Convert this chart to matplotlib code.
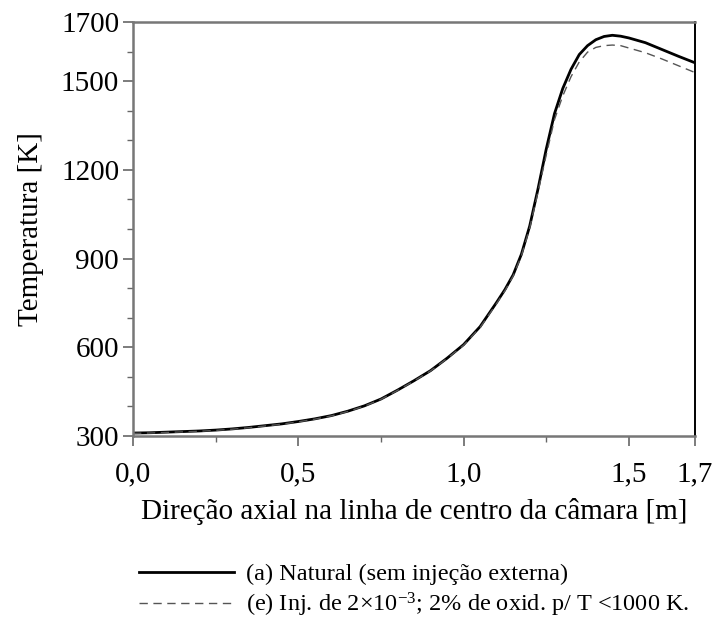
import matplotlib
matplotlib.use("Agg")
import matplotlib.pyplot as plt
from matplotlib.ticker import FixedLocator

plt.rcParams['font.family'] = ['Liberation Serif', 'DejaVu Serif']
plt.rcParams['mathtext.fontset'] = 'custom'
plt.rcParams['mathtext.rm'] = 'Liberation Serif'
plt.rcParams['mathtext.it'] = 'Liberation Serif:italic'

# Data
x_natural = [0.0, 0.05, 0.1, 0.15, 0.2, 0.25, 0.3, 0.35, 0.4, 0.45, 0.5, 0.55,
             0.6, 0.65, 0.7, 0.75, 0.8, 0.85, 0.9, 0.95, 1.0, 1.05, 1.1, 1.125,
             1.15, 1.175, 1.2, 1.225, 1.25, 1.275, 1.3, 1.325, 1.35, 1.375, 1.4,
             1.425, 1.45, 1.475, 1.5, 1.55, 1.6, 1.65, 1.7]
t_natural = [310, 311, 313, 315, 317, 320, 324, 329, 335, 341, 349, 358,
             369, 384, 402, 425, 455, 487, 521, 563, 609, 670, 752, 795,
             845, 915, 1010, 1135, 1270, 1390, 1475, 1540, 1590, 1620, 1640,
             1651, 1655, 1652, 1646, 1630, 1607, 1584, 1562]

x_inj = [0.0, 0.05, 0.1, 0.15, 0.2, 0.25, 0.3, 0.35, 0.4, 0.45, 0.5, 0.55,
         0.6, 0.65, 0.7, 0.75, 0.8, 0.85, 0.9, 0.95, 1.0, 1.05, 1.1, 1.125,
         1.15, 1.175, 1.2, 1.225, 1.25, 1.275, 1.3, 1.325, 1.35, 1.375, 1.4,
         1.425, 1.45, 1.475, 1.5, 1.55, 1.6, 1.65, 1.7]
t_inj = [309, 310, 312, 314, 316, 319, 323, 328, 334, 340, 348, 357,
         368, 383, 401, 424, 454, 486, 520, 562, 607, 667, 748, 791,
         841, 910, 1003, 1125, 1250, 1370, 1450, 1515, 1565, 1598, 1614,
         1620, 1622, 1620, 1612, 1596, 1575, 1552, 1529]

label_natural = "(a) Natural (sem injeção externa)"
label_inj = r"(e) Inj. de 2×10$^{-3}$; 2% de oxid. p/ T <1000 K."

y_major = [300, 600, 900, 1200, 1500, 1700]
y_minor = [400, 500, 700, 800, 1000, 1100, 1300, 1400, 1600]
x_major = [0.0, 0.5, 1.0, 1.5, 1.7]
x_minor = [0.25, 0.75, 1.25]
x_labels = ["0,0", "0,5", "1,0", "1,5", "1,7"]
y_labels = ["300", "600", "900", "1200", "1500", "1700"]

fig = plt.figure(figsize=(7.17, 6.21), dpi=100)
ax = fig.add_axes([0.1855, 0.2979, 0.9693 - 0.1855, 0.9646 - 0.2979])

ln1, = ax.plot(x_natural, t_natural, color='black', lw=2.0, label=label_natural)
ln2, = ax.plot(x_inj, t_inj, color='#555555', lw=1.0, dashes=(6, 4), label=label_inj)

ax.set_xlim(0, 1.7)
ax.set_ylim(300, 1700)
ax.xaxis.set_major_locator(FixedLocator(x_major))
ax.xaxis.set_minor_locator(FixedLocator(x_minor))
ax.yaxis.set_major_locator(FixedLocator(y_major))
ax.yaxis.set_minor_locator(FixedLocator(y_minor))
ax.set_xticklabels(x_labels)
ax.set_yticklabels(y_labels)

ax.tick_params(which='major', direction='out', length=7, width=1.2, color='#666666',
               labelsize=21, pad=3)
ax.tick_params(which='minor', direction='out', length=4, width=1.0, color='#666666')
ax.tick_params(axis='x', which='major', pad=11)

for s in ['left', 'bottom', 'top']:
    ax.spines[s].set_color('#777777')
    ax.spines[s].set_linewidth(1.8)
ax.spines['right'].set_color('black')
ax.spines['right'].set_linewidth(1.4)

ax.set_xlabel("Direção axial na linha de centro da câmara [m]", fontsize=21, labelpad=8)
ax.set_ylabel("Temperatura [K]", fontsize=21, labelpad=12)

fig.legend(handles=[ln1, ln2], loc='upper left', bbox_to_anchor=(0.18, 0.109),
           frameon=False, fontsize=17.5, handlelength=3.9, handletextpad=0.5,
           labelspacing=0.22, borderaxespad=0)

fig.savefig("out.png", dpi=100)
